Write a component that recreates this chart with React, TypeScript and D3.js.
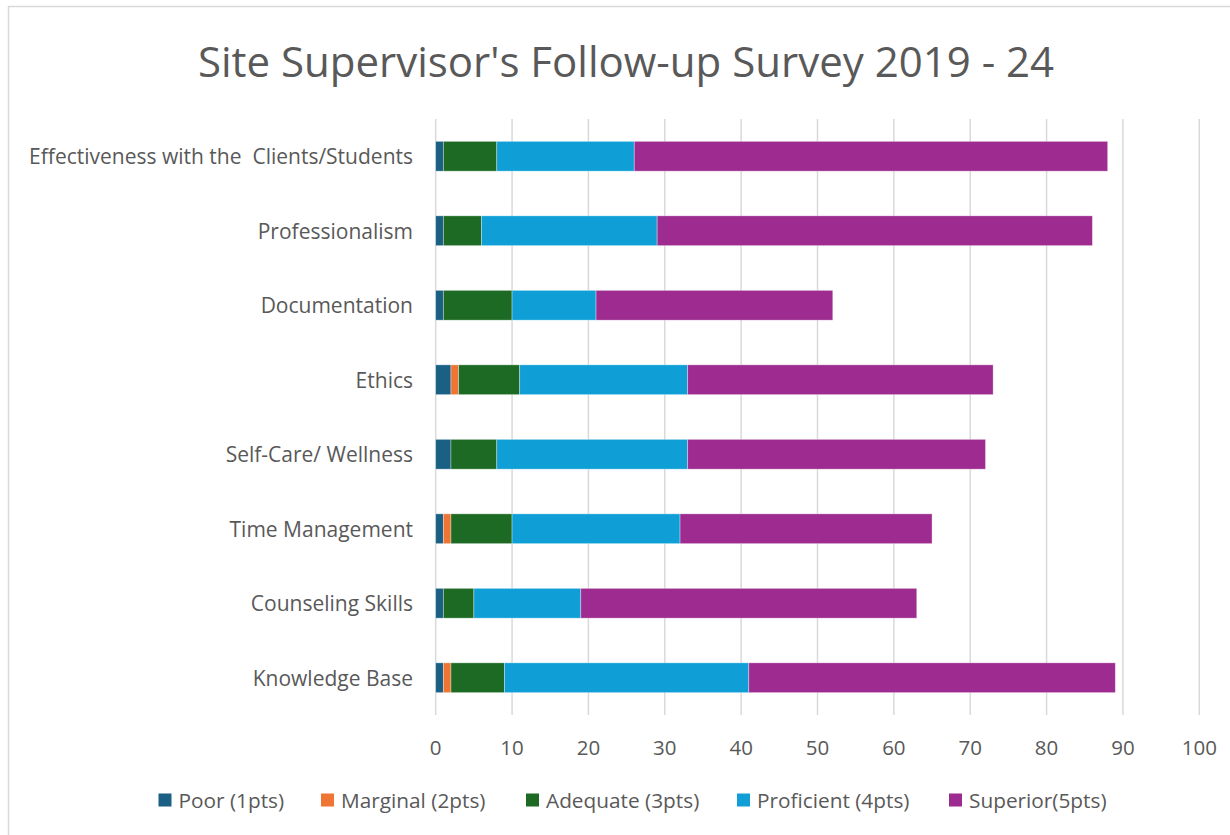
import React from "react";
import * as d3 from "d3";

const categories = [
  "Effectiveness with the  Clients/Students",
  "Professionalism",
  "Documentation",
  "Ethics",
  "Self-Care/ Wellness",
  "Time Management",
  "Counseling Skills",
  "Knowledge Base",
];

const seriesNames = [
  "Poor (1pts)",
  "Marginal (2pts)",
  "Adequate (3pts)",
  "Proficient (4pts)",
  "Superior(5pts)",
];

const poor = [1, 1, 1, 2, 2, 1, 1, 1];
const marginal = [0, 0, 0, 1, 0, 1, 0, 1];
const adequate = [7, 5, 9, 8, 6, 8, 4, 7];
const proficient = [18, 23, 11, 22, 25, 22, 14, 32];
const superior = [62, 57, 31, 40, 39, 33, 44, 48];

const xTicks = [0, 10, 20, 30, 40, 50, 60, 70, 80, 90, 100];

const colors = ["#1a5f84", "#ee7534", "#1c6a23", "#0f9fd6", "#9e2b8f"];

const W = 1230;
const H = 835;
const FONT = "'Open Sans', sans-serif";
const TEXT = "#595959";

export default function App() {
  React.useEffect(() => {
    document.body.style.margin = "0";
  }, []);

  const values = [poor, marginal, adequate, proficient, superior];
  const rows = categories.map((c, i) => {
    const r: any = { cat: c };
    seriesNames.forEach((s, j) => (r[s] = values[j][i]));
    return r;
  });
  const stacked = d3.stack<any>().keys(seriesNames)(rows);

  const x = d3.scaleLinear().domain([0, 100]).range([435.7, 1199.3]);
  const y = d3.scaleBand().domain(categories).range([119, 715]).paddingInner(0.6).paddingOuter(0.3);

  const legendX = [158.5, 321, 526, 737, 949];

  return (
    <svg width={W} height={H} style={{ display: "block", background: "#fff" }}>
      <rect x={0} y={0} width={W} height={H} fill="#fff" />
      <path d={`M8.5,${H + 5} V6.5 H${W + 5}`} fill="none" stroke="#d9d9d9" strokeWidth={1.5} />
      <text
        x={626}
        y={60}
        textAnchor="middle"
        dominantBaseline="central"
        fontFamily={FONT}
        fontSize={42}
        fill={TEXT}
      >
        Site Supervisor's Follow-up Survey 2019 - 24
      </text>
      {xTicks.map((t) => (
        <g key={t}>
          <line x1={x(t)} x2={x(t)} y1={119} y2={715} stroke="#d9d9d9" strokeWidth={1.5} />
          <text
            x={x(t)}
            y={747}
            textAnchor="middle"
            dominantBaseline="central"
            fontFamily={FONT}
            fontSize={20.5}
            fill={TEXT}
          >
            {t}
          </text>
        </g>
      ))}
      {stacked.map((layer, j) => (
        <g key={layer.key} fill={colors[j]}>
          {layer.map((d, i) =>
            d[1] - d[0] > 0 ? (
              <rect
                key={i}
                x={x(d[0])}
                y={y(categories[i])!}
                width={x(d[1]) - x(d[0])}
                height={y.bandwidth()}
                stroke="#ffffff"
                strokeOpacity={0.45}
                strokeWidth={0.75}
              />
            ) : null
          )}
        </g>
      ))}
      {categories.map((c) => (
        <text
          key={c}
          x={413}
          y={y(c)! + y.bandwidth() / 2}
          textAnchor="end"
          dominantBaseline="central"
          fontFamily={FONT}
          fontSize={21}
          fill={TEXT}
          style={{ whiteSpace: "pre" }}
        >
          {c}
        </text>
      ))}
      {seriesNames.map((s, j) => (
        <g key={s}>
          <rect x={legendX[j]} y={793.5} width={13} height={13} fill={colors[j]} />
          <text
            x={legendX[j] + 20}
            y={800}
            dominantBaseline="central"
            fontFamily={FONT}
            fontSize={20.8}
            fill={TEXT}
          >
            {s}
          </text>
        </g>
      ))}
    </svg>
  );
}
